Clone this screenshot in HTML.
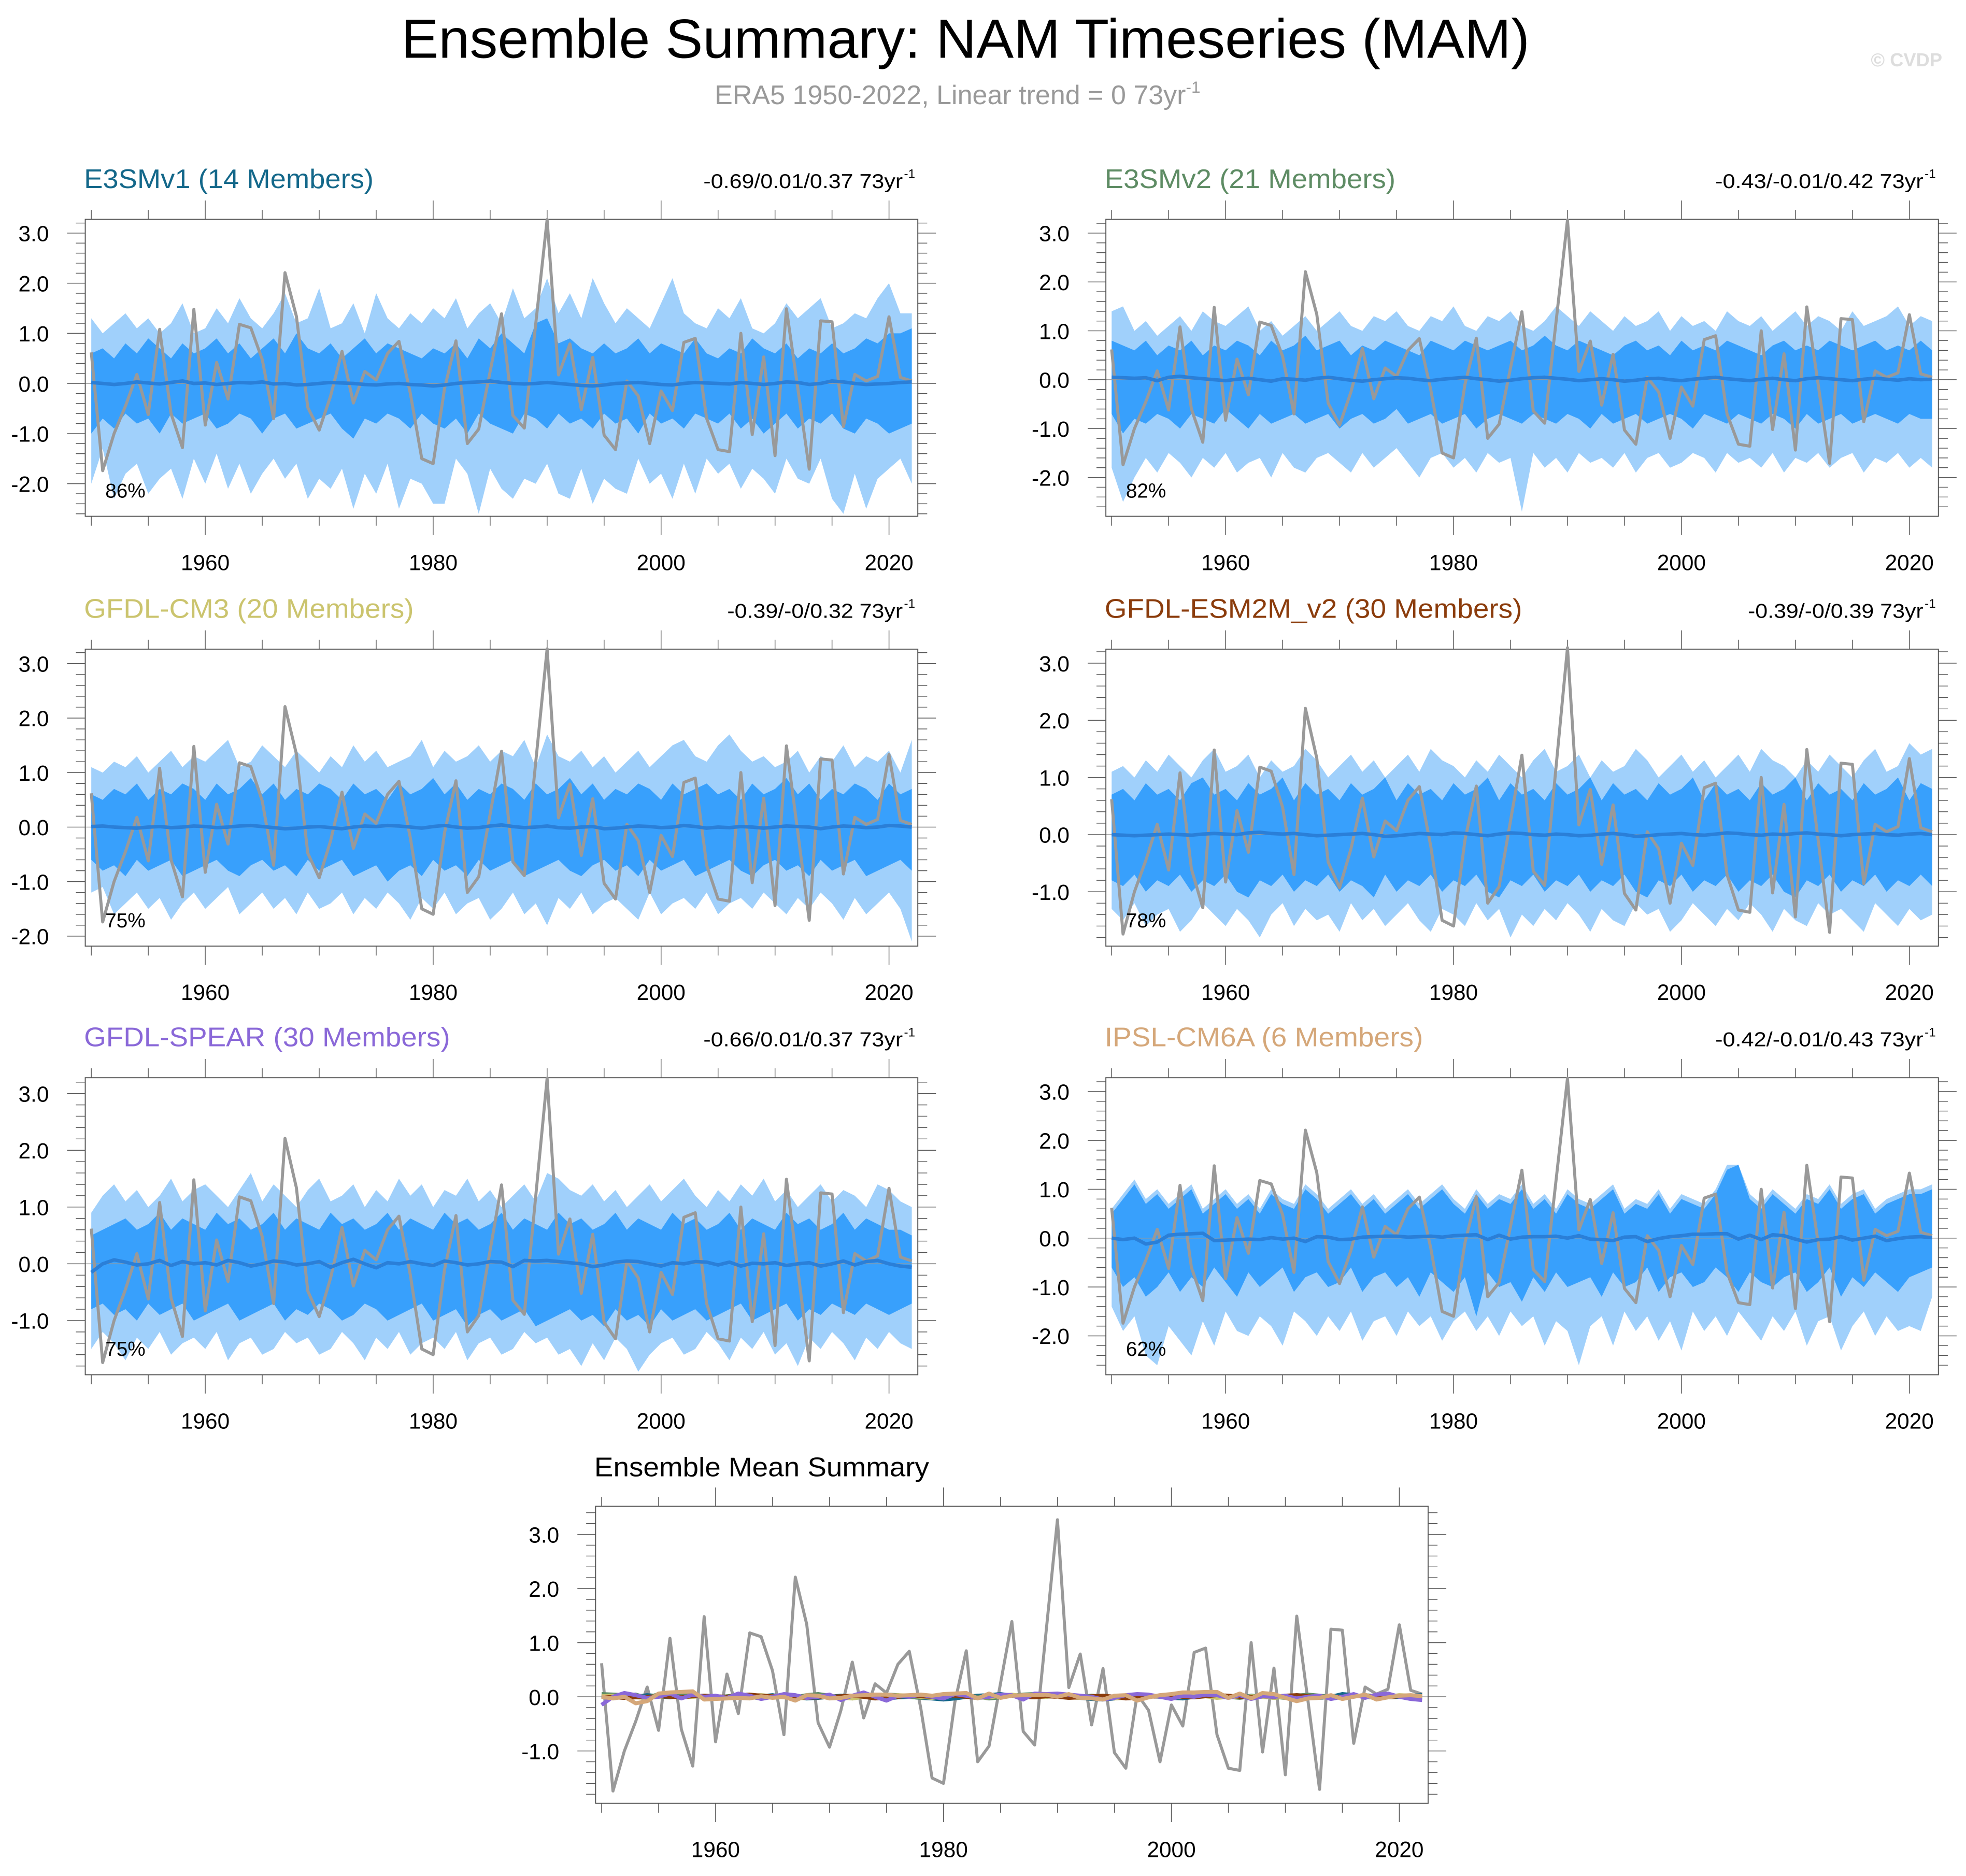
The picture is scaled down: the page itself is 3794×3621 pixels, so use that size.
<!DOCTYPE html>
<html><head><meta charset="utf-8">
<style>
html,body{margin:0;padding:0;background:#fff;}
svg{display:block;font-family:"Liberation Sans",sans-serif;}
</style></head>
<body>
<svg id="fig" xmlns="http://www.w3.org/2000/svg" width="3794" height="3621" viewBox="0 0 1568 1497" preserveAspectRatio="none">
<rect x="0" y="0" width="1568" height="1497" fill="#fff"/>
<text x="770" y="46" font-size="44" text-anchor="middle" textLength="900" lengthAdjust="spacingAndGlyphs" fill="#000">Ensemble Summary: NAM Timeseries (MAM)</text>
<text x="570" y="83" font-size="21.5" fill="#999">ERA5 1950-2022, Linear trend = 0 73yr<tspan dy="-9" font-size="13">-1</tspan></text>
<text x="1549" y="53" font-size="15" font-weight="bold" text-anchor="end" fill="#ddd">© CVDP</text>
<g id="panels"></g>
</svg>
<script>
// ---- data ----
const startYear = 1950;
const era5 = [0.62,-1.74,-1.0,-0.45,0.18,-0.62,1.08,-0.6,-1.28,1.48,-0.83,0.42,-0.31,1.18,1.11,0.48,-0.7,2.21,1.34,-0.48,-0.93,-0.25,0.64,-0.39,0.24,0.07,0.6,0.84,-0.2,-1.5,-1.6,-0.1,0.85,-1.2,-0.91,0.24,1.39,-0.64,-0.89,1.19,3.27,0.17,0.79,-0.52,0.52,-1.03,-1.32,0.05,-0.25,-1.2,-0.15,-0.54,0.82,0.9,-0.7,-1.32,-1.36,1.0,-1.02,0.53,-1.44,1.49,-0.1,-1.71,1.25,1.23,-0.86,0.18,0.05,0.14,1.33,0.12,0.05];

const e3smv1_hi = [1.3,1.0,1.2,1.4,1.1,1.3,1.0,1.2,1.6,1.0,1.1,1.5,1.2,1.7,1.3,1.1,1.4,1.8,1.2,1.3,1.9,1.1,1.2,1.6,1.0,1.8,1.3,1.1,1.4,1.2,1.5,1.3,1.7,1.1,1.4,1.6,1.2,1.9,1.3,1.5,2.1,1.4,1.8,1.3,2.1,1.6,1.2,1.5,1.3,1.1,1.6,2.1,1.4,1.2,1.1,1.5,1.3,1.7,1.1,1.0,1.2,1.6,1.3,1.5,1.7,1.1,1.2,1.4,1.3,1.7,2.0,1.4,1.4];
const e3smv1_lo = [-2.0,-1.3,-2.3,-1.8,-1.6,-2.2,-1.9,-1.7,-2.3,-1.5,-2.0,-1.4,-2.1,-1.6,-2.2,-1.8,-1.5,-1.9,-1.6,-2.3,-1.9,-2.1,-1.7,-2.5,-1.8,-2.2,-1.6,-2.5,-1.9,-2.0,-2.4,-2.4,-1.5,-1.8,-2.6,-1.7,-2.1,-2.3,-1.9,-2.0,-1.6,-2.2,-2.3,-1.7,-2.4,-1.9,-2.1,-2.2,-1.5,-2.0,-1.8,-2.3,-1.6,-2.2,-1.5,-1.8,-1.6,-2.1,-1.7,-1.9,-2.2,-1.5,-1.9,-2.0,-1.5,-2.3,-2.6,-1.8,-2.5,-1.9,-1.7,-1.5,-2.0];
const e3smv1_dhi = [0.6,0.7,0.5,0.8,0.6,0.9,0.7,0.5,0.8,0.6,0.7,0.9,0.6,0.8,0.5,0.7,0.9,0.6,1.0,0.7,0.6,0.8,0.5,0.7,0.9,0.6,0.8,0.7,0.6,0.5,0.7,0.6,0.8,0.5,0.9,0.7,1.0,0.8,0.6,1.2,1.3,0.8,0.9,0.7,0.6,0.8,0.6,0.7,0.9,0.6,0.8,0.7,0.6,0.9,0.6,0.5,0.7,0.6,0.9,0.7,0.6,0.8,0.5,0.7,0.6,0.8,0.6,0.7,0.9,0.8,1.0,1.0,1.1];
const e3smv1_dlo = [-1.0,-0.7,-0.9,-0.6,-0.8,-0.7,-1.0,-0.6,-0.8,-0.7,-0.6,-0.9,-0.8,-0.6,-0.7,-1.0,-0.7,-0.6,-0.9,-0.8,-0.7,-0.6,-0.9,-1.1,-0.7,-0.8,-0.6,-0.7,-0.9,-0.6,-0.8,-0.9,-0.7,-1.0,-0.6,-0.8,-0.9,-1.0,-0.6,-0.7,-0.9,-0.6,-0.8,-0.7,-0.9,-0.6,-0.8,-0.7,-1.0,-0.6,-0.8,-0.7,-0.9,-0.6,-0.7,-0.8,-0.6,-0.9,-0.7,-1.0,-0.8,-0.6,-0.9,-0.7,-0.8,-0.6,-0.9,-1.0,-0.7,-0.8,-1.0,-0.9,-0.8];
const e3smv1_mean = [0.02,0.0,-0.02,0.0,0.03,0.01,-0.01,0.02,0.05,0.0,0.01,-0.02,0.0,0.02,0.01,0.03,-0.01,0.0,-0.03,-0.02,0.0,0.02,0.01,0.0,-0.02,-0.03,-0.01,0.0,-0.02,-0.03,-0.05,-0.03,0.0,0.02,0.03,0.05,0.02,0.0,-0.01,0.0,0.02,0.0,-0.02,-0.04,-0.05,-0.03,0.0,0.01,0.02,0.0,-0.02,-0.03,0.0,0.02,0.01,0.0,-0.01,0.02,0.0,-0.02,0.0,0.03,0.02,-0.02,0.0,0.05,0.03,0.0,-0.02,-0.01,0.0,0.02,0.03];

const e3smv2_hi = [1.4,1.5,1.0,1.2,0.9,1.1,1.3,1.0,1.4,1.2,1.1,1.3,1.5,1.0,1.2,0.9,1.1,1.3,1.0,1.2,1.4,1.1,1.0,1.3,1.2,1.4,1.1,1.0,1.3,1.2,1.5,1.1,1.0,1.3,1.2,1.4,1.1,1.0,1.2,1.5,1.3,1.1,1.4,1.2,1.0,1.3,1.1,1.2,1.4,1.0,1.3,1.1,1.2,1.0,1.4,1.2,1.1,1.3,1.0,1.2,1.4,1.1,1.3,1.2,1.0,1.4,1.1,1.2,1.3,1.5,1.1,1.3,1.2];
const e3smv2_lo = [-1.8,-2.5,-2.0,-1.6,-1.9,-1.5,-1.7,-2.0,-1.6,-1.8,-1.5,-1.9,-1.7,-1.6,-2.0,-1.5,-1.8,-1.9,-1.6,-1.5,-1.7,-1.9,-1.5,-1.8,-1.6,-1.4,-1.7,-2.0,-1.6,-1.5,-1.8,-1.6,-1.9,-1.5,-1.7,-1.6,-2.7,-1.5,-1.8,-1.6,-1.9,-1.5,-1.7,-1.6,-1.8,-1.5,-1.9,-1.6,-1.5,-1.8,-1.7,-1.5,-1.6,-1.9,-1.5,-1.7,-1.6,-1.8,-1.5,-1.9,-1.6,-1.7,-1.5,-1.8,-1.6,-1.5,-1.9,-1.6,-1.7,-1.5,-1.8,-1.6,-1.8];
const e3smv2_dhi = [0.8,0.7,0.6,0.8,0.5,0.7,0.6,0.8,0.5,0.7,0.6,0.8,0.7,0.5,0.8,0.6,0.7,0.9,0.6,0.7,0.8,0.5,0.7,0.6,0.8,0.7,0.6,0.5,0.8,0.7,0.6,0.8,0.7,0.6,0.7,0.8,0.6,0.7,0.9,0.7,0.6,0.8,0.7,0.6,0.5,0.7,0.8,0.6,0.7,0.5,0.8,0.6,0.7,0.6,0.8,0.7,0.6,0.5,0.7,0.8,0.6,0.7,0.6,0.8,0.7,0.6,0.7,0.8,0.6,0.7,0.6,0.8,0.6];
const e3smv2_dlo = [-0.7,-1.1,-0.8,-0.9,-0.7,-0.8,-1.0,-0.7,-0.8,-0.9,-0.6,-0.8,-1.0,-0.7,-0.9,-0.8,-0.7,-0.9,-0.8,-0.7,-1.0,-0.8,-0.7,-0.9,-0.8,-0.6,-0.9,-0.8,-0.7,-0.9,-0.8,-0.7,-1.0,-0.8,-0.7,-0.8,-0.9,-0.7,-0.8,-0.9,-0.7,-0.8,-1.0,-0.7,-0.9,-0.8,-0.7,-0.9,-0.8,-0.7,-0.8,-1.0,-0.7,-0.8,-0.9,-0.7,-0.8,-0.9,-0.7,-0.8,-1.0,-0.7,-0.9,-0.8,-0.7,-0.9,-0.8,-0.7,-0.8,-0.9,-0.7,-0.8,-0.8];
const e3smv2_mean = [0.05,0.04,0.03,0.04,-0.02,0.05,0.07,0.04,0.02,0.0,-0.02,0.01,0.03,0.0,-0.03,0.02,0.01,-0.01,0.03,0.05,0.02,-0.01,-0.03,0.0,0.02,0.04,0.03,0.0,-0.02,0.01,0.03,0.05,0.02,0.0,-0.03,-0.01,0.02,0.04,0.05,0.03,0.01,-0.02,0.0,0.02,0.0,-0.03,-0.01,0.02,0.03,0.0,-0.02,0.01,0.03,0.05,0.02,0.0,-0.02,0.01,0.03,0.0,-0.02,0.02,0.04,0.02,0.0,-0.02,0.01,0.03,0.01,-0.01,0.02,0.0,0.01];

const cm3_hi = [1.1,1.0,1.2,1.1,1.3,1.0,1.2,1.4,1.1,1.3,1.2,1.4,1.6,1.1,1.2,1.5,1.3,1.1,1.4,1.2,1.0,1.3,1.1,1.5,1.2,1.4,1.1,1.2,1.3,1.6,1.1,1.4,1.2,1.3,1.5,1.2,1.4,1.3,1.6,1.1,1.7,1.3,1.2,1.4,1.1,1.3,1.0,1.2,1.4,1.1,1.3,1.5,1.6,1.3,1.2,1.5,1.7,1.4,1.2,1.3,1.1,1.2,1.4,1.0,1.3,1.2,1.5,1.1,1.3,1.2,1.4,1.0,1.6];
const cm3_lo = [-1.2,-1.1,-1.6,-1.4,-1.2,-1.5,-1.3,-1.7,-1.4,-1.2,-1.5,-1.3,-1.1,-1.6,-1.4,-1.2,-1.5,-1.3,-1.6,-1.2,-1.5,-1.4,-1.2,-1.6,-1.3,-1.5,-1.2,-1.4,-1.7,-1.3,-1.5,-1.2,-1.6,-1.4,-1.3,-1.7,-1.5,-1.2,-1.6,-1.4,-1.8,-1.3,-1.5,-1.2,-1.6,-1.4,-1.3,-1.5,-1.7,-1.2,-1.6,-1.4,-1.3,-1.5,-1.2,-1.6,-1.4,-1.3,-1.5,-1.2,-1.4,-1.6,-1.3,-1.5,-1.2,-1.4,-1.7,-1.3,-1.6,-1.4,-1.2,-1.5,-2.1];
const cm3_dhi = [0.6,0.5,0.7,0.6,0.8,0.5,0.7,0.6,0.8,0.7,0.5,0.8,0.6,0.7,0.9,0.6,0.8,0.5,0.7,0.6,0.8,0.7,0.5,0.8,0.6,0.7,0.5,0.8,0.6,0.7,0.9,0.6,0.8,0.5,0.7,0.6,0.8,0.7,0.5,0.8,0.6,0.7,0.9,0.6,0.8,0.5,0.7,0.6,0.8,0.7,0.5,0.8,0.6,0.7,0.8,0.6,0.7,0.5,0.8,0.6,0.7,0.9,0.6,0.8,0.5,0.7,0.6,0.8,0.7,0.5,0.8,0.6,0.7];
const cm3_dlo = [-0.6,-0.8,-0.7,-0.9,-0.6,-0.8,-0.7,-0.6,-0.9,-0.8,-0.7,-0.6,-0.8,-0.9,-0.7,-0.6,-0.8,-0.7,-0.9,-0.6,-0.8,-0.7,-0.6,-0.9,-0.8,-0.7,-1.0,-0.8,-0.7,-0.9,-0.6,-0.8,-0.7,-0.9,-0.6,-0.8,-0.7,-0.6,-0.9,-0.8,-0.7,-0.6,-0.8,-0.9,-0.7,-0.6,-0.8,-0.7,-0.9,-0.6,-0.8,-0.7,-0.6,-0.9,-0.8,-0.7,-0.6,-0.8,-0.9,-0.7,-0.6,-0.8,-0.7,-0.9,-0.6,-0.8,-0.7,-0.6,-0.9,-0.8,-0.7,-0.6,-0.8];
const cm3_mean = [0.01,0.02,0.0,-0.01,-0.02,0.0,0.01,-0.01,0.0,0.02,0.01,-0.01,0.0,0.02,0.03,0.01,-0.01,-0.03,-0.02,0.0,0.01,-0.01,-0.03,0.0,0.02,0.01,0.03,0.02,0.0,-0.02,0.01,0.03,0.0,-0.02,-0.01,0.02,0.04,0.01,-0.01,0.0,0.02,-0.01,-0.02,0.0,0.01,-0.03,-0.02,0.0,0.02,0.01,-0.01,0.0,0.03,0.01,-0.02,0.0,-0.01,0.01,0.0,-0.02,0.0,0.02,0.01,0.0,-0.03,0.0,0.02,0.01,-0.01,0.0,0.03,0.02,0.0];

const esm2m_hi = [1.1,1.2,1.0,1.3,1.1,1.4,1.2,1.0,1.3,1.5,1.1,1.2,1.4,1.0,1.3,1.1,1.2,1.5,1.3,1.0,1.2,1.4,1.1,1.3,1.0,1.2,1.4,1.1,1.5,1.3,1.2,1.0,1.3,1.1,1.4,1.2,1.0,1.3,1.5,1.1,1.2,1.4,1.0,1.3,1.1,1.2,1.5,1.3,1.0,1.2,1.4,1.1,1.3,1.0,1.2,1.4,1.1,1.5,1.3,1.2,1.0,1.3,1.1,1.4,1.2,1.0,1.3,1.5,1.1,1.2,1.6,1.4,1.5];
const esm2m_lo = [-1.3,-1.5,-1.2,-1.6,-1.4,-1.3,-1.7,-1.5,-1.2,-1.4,-1.6,-1.3,-1.5,-1.8,-1.4,-1.2,-1.6,-1.3,-1.5,-1.4,-1.7,-1.2,-1.5,-1.3,-1.6,-1.4,-1.2,-1.5,-1.7,-1.3,-1.4,-1.6,-1.2,-1.5,-1.3,-1.8,-1.4,-1.6,-1.3,-1.5,-1.2,-1.4,-1.7,-1.3,-1.5,-1.6,-1.2,-1.4,-1.3,-1.7,-1.5,-1.2,-1.4,-1.6,-1.3,-1.5,-1.2,-1.4,-1.7,-1.3,-1.5,-1.6,-1.2,-1.4,-1.3,-1.5,-1.7,-1.2,-1.4,-1.6,-1.3,-1.5,-1.4];
const esm2m_dhi = [0.7,0.8,0.6,0.9,0.7,0.8,0.6,0.9,1.0,0.7,0.8,0.6,0.9,0.7,0.8,1.0,0.6,0.9,0.7,0.8,0.6,0.9,0.7,0.8,1.0,0.6,0.9,0.7,0.8,0.6,0.9,0.7,0.8,1.0,0.6,0.9,0.7,0.8,0.6,0.9,0.7,0.8,1.0,0.6,0.9,0.7,0.8,0.6,0.9,0.7,0.8,1.0,0.6,0.9,0.7,0.8,0.6,0.9,0.7,0.8,1.0,0.6,0.9,0.7,0.8,0.6,0.9,0.7,0.8,1.0,0.6,0.9,0.8];
const esm2m_dlo = [-0.8,-0.9,-0.7,-1.0,-0.8,-0.9,-0.7,-1.0,-0.8,-0.9,-0.7,-1.0,-1.1,-0.8,-0.9,-0.7,-1.0,-0.8,-0.9,-0.7,-1.0,-0.8,-0.9,-1.1,-0.7,-1.0,-0.8,-0.9,-0.7,-1.0,-0.8,-0.9,-0.7,-1.0,-1.1,-0.8,-0.9,-0.7,-1.0,-0.8,-0.9,-0.7,-1.0,-0.8,-0.9,-0.7,-1.0,-1.1,-0.8,-0.9,-0.7,-1.0,-0.8,-0.9,-0.7,-1.0,-0.8,-0.9,-0.7,-1.0,-1.1,-0.8,-0.9,-0.7,-1.0,-0.8,-0.9,-0.7,-1.0,-0.8,-0.9,-0.7,-0.9];
const esm2m_mean = [0.0,-0.01,-0.02,-0.01,0.0,0.01,0.0,-0.01,0.01,0.02,0.01,0.0,0.03,0.04,0.02,0.01,0.02,0.0,-0.02,-0.01,0.0,0.01,0.02,0.0,-0.03,-0.02,0.0,0.02,0.01,0.0,0.03,0.02,0.0,-0.02,0.01,0.03,0.02,0.0,-0.01,0.01,0.0,-0.02,-0.01,0.01,0.02,0.0,-0.03,-0.02,0.0,0.01,0.02,0.0,-0.01,0.01,0.03,0.02,0.0,-0.01,0.01,0.0,0.02,0.03,0.01,0.0,-0.02,0.0,0.01,0.02,0.0,-0.01,0.01,0.02,0.0];

const spear_hi = [0.9,1.2,1.4,1.1,1.3,1.0,1.2,1.5,1.1,1.3,1.4,1.2,1.0,1.3,1.6,1.1,1.4,1.2,1.0,1.3,1.5,1.1,1.2,1.4,1.0,1.3,1.1,1.5,1.2,1.4,1.0,1.3,1.2,1.5,1.1,1.3,1.0,1.2,1.4,1.1,1.6,1.5,1.3,1.2,1.4,1.1,1.3,1.0,1.2,1.4,1.1,1.3,1.5,1.2,1.0,1.3,1.1,1.4,1.2,1.5,1.1,1.3,1.0,1.2,1.4,1.1,1.3,1.2,1.0,1.4,1.3,1.1,1.0];
const spear_lo = [-1.5,-1.2,-1.4,-1.7,-1.3,-1.5,-1.2,-1.6,-1.4,-1.3,-1.5,-1.2,-1.7,-1.4,-1.3,-1.6,-1.5,-1.2,-1.4,-1.3,-1.6,-1.5,-1.2,-1.4,-1.7,-1.3,-1.5,-1.2,-1.6,-1.4,-1.3,-1.5,-1.2,-1.7,-1.4,-1.3,-1.6,-1.5,-1.2,-1.4,-1.3,-1.6,-1.5,-1.8,-1.4,-1.7,-1.3,-1.5,-1.9,-1.6,-1.4,-1.3,-1.6,-1.5,-1.2,-1.4,-1.7,-1.3,-1.5,-1.2,-1.6,-1.4,-1.8,-1.3,-1.5,-1.2,-1.4,-1.7,-1.3,-1.5,-1.2,-1.4,-1.5];
const spear_dhi = [0.5,0.6,0.7,0.8,0.6,0.7,0.9,0.6,0.8,0.7,0.6,0.9,0.7,0.8,0.6,0.7,0.9,0.6,0.8,0.7,0.6,0.9,0.7,0.8,0.6,0.7,0.9,0.6,0.8,0.7,0.6,0.9,0.7,0.8,0.6,0.7,0.9,0.6,0.8,0.7,0.6,0.9,0.7,0.8,0.6,0.7,0.9,0.6,0.8,0.7,0.6,0.9,0.7,0.8,0.6,0.7,0.9,0.6,0.8,0.7,0.6,0.9,0.7,0.8,0.6,0.7,0.9,0.6,0.8,0.7,0.6,0.6,0.5];
const spear_dlo = [-0.8,-0.7,-0.9,-0.8,-1.0,-0.7,-0.9,-0.8,-0.7,-1.0,-0.9,-0.8,-0.7,-1.0,-0.9,-0.8,-0.7,-1.0,-0.8,-0.9,-0.7,-0.8,-1.0,-0.9,-0.7,-0.8,-1.0,-0.9,-0.8,-0.7,-1.0,-0.9,-0.8,-1.1,-0.9,-0.8,-1.0,-0.9,-0.8,-1.1,-1.0,-0.9,-0.8,-1.0,-0.9,-1.1,-0.8,-1.0,-0.9,-1.1,-0.8,-1.0,-0.9,-0.8,-1.0,-0.9,-0.8,-0.7,-1.0,-0.9,-0.8,-0.7,-1.0,-0.8,-0.9,-0.7,-0.8,-0.9,-0.7,-0.8,-0.9,-0.8,-0.7];
const spear_mean = [-0.15,0.0,0.07,0.03,-0.02,0.0,0.06,-0.03,0.04,0.0,0.02,-0.02,0.06,0.02,-0.04,0.0,0.05,0.03,-0.02,0.0,0.04,-0.06,0.02,0.08,0.0,-0.07,0.02,0.0,0.04,0.0,-0.03,0.05,0.02,-0.02,0.0,0.04,0.03,-0.05,0.06,0.05,0.06,0.04,0.02,0.0,-0.05,-0.02,0.03,0.05,0.04,0.0,-0.04,0.02,0.0,0.04,0.03,-0.02,0.03,-0.04,0.01,0.0,0.02,-0.03,0.0,0.02,-0.04,0.0,0.05,-0.02,0.04,0.06,0.0,-0.04,-0.06];

const ipsl_hi = [0.6,0.9,1.2,0.8,1.0,0.7,0.9,1.1,0.6,0.8,1.0,0.7,0.9,0.6,1.0,0.8,0.7,1.1,0.9,0.6,0.8,1.0,0.7,0.9,0.6,0.8,1.0,0.7,0.9,1.1,0.8,0.6,1.0,0.7,0.9,0.8,1.1,0.7,0.9,0.6,1.0,0.8,0.7,0.9,1.1,0.6,0.8,0.7,1.0,0.6,0.9,0.8,0.7,1.0,1.5,1.5,0.9,0.7,1.0,0.8,0.6,0.9,0.8,1.1,0.7,0.9,1.0,0.6,0.8,0.9,1.0,1.0,1.1];
const ipsl_lo = [-1.4,-1.9,-1.6,-2.4,-2.6,-1.8,-2.1,-2.4,-1.7,-2.2,-1.5,-1.9,-2.0,-1.6,-1.8,-2.2,-1.5,-1.7,-2.0,-1.6,-1.9,-1.5,-2.1,-1.7,-1.6,-2.0,-1.5,-1.8,-1.6,-2.1,-1.7,-1.5,-1.9,-1.6,-2.0,-1.5,-1.8,-1.6,-2.2,-1.7,-1.9,-2.6,-1.8,-1.6,-2.2,-1.5,-1.9,-1.6,-2.1,-1.7,-2.3,-1.5,-1.9,-1.6,-2.0,-1.5,-1.8,-2.1,-1.6,-1.9,-1.5,-2.2,-1.7,-1.6,-2.3,-1.8,-1.5,-2.0,-1.6,-1.9,-1.8,-1.9,-1.2];
const ipsl_dhi = [0.5,0.8,1.1,0.7,0.9,0.6,0.8,1.0,0.5,0.7,0.9,0.6,0.8,0.5,0.9,0.7,0.6,1.0,0.8,0.5,0.7,0.9,0.6,0.8,0.5,0.7,0.9,0.6,0.8,1.0,0.7,0.5,0.9,0.6,0.8,0.7,1.0,0.6,0.8,0.5,0.9,0.7,0.6,0.8,1.0,0.5,0.7,0.6,0.9,0.5,0.8,0.7,0.6,0.9,1.4,1.5,0.8,0.6,0.9,0.7,0.5,0.8,0.7,1.0,0.6,0.8,0.9,0.5,0.7,0.8,0.9,0.9,1.0];
const ipsl_dlo = [-0.6,-1.0,-0.8,-1.2,-1.0,-0.7,-1.1,-0.8,-1.0,-0.6,-0.9,-1.2,-0.7,-1.0,-0.8,-0.6,-1.1,-0.8,-0.7,-1.0,-0.9,-0.6,-1.1,-0.8,-0.7,-1.0,-0.8,-1.2,-0.7,-0.9,-1.1,-0.8,-1.6,-0.7,-1.0,-0.9,-1.3,-0.8,-1.1,-0.7,-1.0,-0.9,-0.8,-1.2,-0.7,-1.0,-0.9,-0.6,-1.1,-0.8,-0.7,-1.0,-0.9,-0.6,-0.8,-1.1,-0.7,-0.9,-1.0,-0.8,-0.7,-1.1,-0.9,-0.6,-1.2,-0.8,-1.0,-0.7,-0.9,-1.1,-0.8,-0.7,-0.6];
const ipsl_mean = [0.0,-0.03,0.0,-0.12,-0.08,0.06,0.08,0.09,0.1,-0.05,-0.04,-0.03,-0.02,-0.03,0.01,-0.02,0.0,-0.07,0.03,0.02,-0.03,-0.02,0.02,0.03,0.04,0.04,0.02,0.03,0.04,0.02,0.05,0.06,0.07,-0.03,0.06,-0.02,0.02,0.03,0.03,0.04,0.0,0.05,-0.02,-0.03,-0.05,0.02,0.03,-0.07,-0.01,0.03,0.05,0.08,0.08,0.09,0.09,-0.02,0.06,-0.03,0.07,0.05,-0.02,-0.08,-0.03,-0.02,0.03,-0.04,0.0,0.04,-0.05,-0.01,0.02,0.03,0.01];

const modelNames = ["E3SMv1 (14 Members)","E3SMv2 (21 Members)","GFDL-CM3 (20 Members)","GFDL-ESM2M_v2 (30 Members)","GFDL-SPEAR (30 Members)","IPSL-CM6A (6 Members)"];
const trendLabels = ["-0.69/0.01/0.37 73yr","-0.43/-0.01/0.42 73yr","-0.39/-0/0.32 73yr","-0.39/-0/0.39 73yr","-0.66/0.01/0.37 73yr","-0.42/-0.01/0.43 73yr"];
const pctLabels = ["86%","82%","75%","78%","75%","62%"];
const xTickYears = [1960,1980,2000,2020];

// ---- layout / style ----
const modelColors = ["#14688a","#5e8c64","#cbc46e","#8b3c0c","#8a68d8","#d5a779"];
const titleWidths = [231,232,263,333,292,254];
const trendWidths = [159,166,140,140,159,166];
const LIGHT = "#a0d0fb", DARK = "#38a0fc", MEANC = "#2a7fd8", OBS = "#999999";
const panels = [
 {box:[68,175,732,412], zero:306, ppu:40.0, x1950:72.8, yt:[-2,3], slug:"e3smv1", hi:e3smv1_hi, lo:e3smv1_lo, dhi:e3smv1_dhi, dlo:e3smv1_dlo, mean:e3smv1_mean},
 {box:[882,175,1546,412], zero:303, ppu:39.0, x1950:886.6, yt:[-2,3], slug:"e3smv2", hi:e3smv2_hi, lo:e3smv2_lo, dhi:e3smv2_dhi, dlo:e3smv2_dlo, mean:e3smv2_mean},
 {box:[68,518,732,755], zero:660, ppu:43.5, x1950:72.8, yt:[-2,3], slug:"gfdl-cm3", hi:cm3_hi, lo:cm3_lo, dhi:cm3_dhi, dlo:cm3_dlo, mean:cm3_mean},
 {box:[882,518,1546,755], zero:666, ppu:45.6, x1950:886.6, yt:[-1,3], slug:"gfdl-esm2m", hi:esm2m_hi, lo:esm2m_lo, dhi:esm2m_dhi, dlo:esm2m_dlo, mean:esm2m_mean},
 {box:[68,860,732,1097], zero:1008.5, ppu:45.3, x1950:72.8, yt:[-1,3], slug:"gfdl-spear", hi:spear_hi, lo:spear_lo, dhi:spear_dhi, dlo:spear_dlo, mean:spear_mean},
 {box:[882,860,1546,1097], zero:988, ppu:39.0, x1950:886.6, yt:[-2,3], slug:"ipsl-cm6a", hi:ipsl_hi, lo:ipsl_lo, dhi:ipsl_dhi, dlo:ipsl_dlo, mean:ipsl_mean}
];
const YR = 9.089;
const NS = "http://www.w3.org/2000/svg";
const root = document.getElementById("panels");
function mk(tag, attrs, parent){
  const e = document.createElementNS(NS, tag);
  for (const k in attrs) e.setAttribute(k, attrs[k]);
  (parent||root).appendChild(e);
  return e;
}
function val(arr,i){ return arr[Math.min(i, arr.length-1)]; }

function drawAxes(g, box, zero, ppu, x1950, yt){
  const [x0,y0,x1,y1] = box;
  const xs = yr => x1950 + (yr-startYear)*YR;
  const ys = v => zero - ppu*v;
  const z = mk("line",{x1:x0,x2:x1,y1:ys(0),y2:ys(0),stroke:"#999","stroke-width":0.6},g);
  
  
  const fr = mk("rect",{x:x0,y:y0,width:x1-x0,height:y1-y0,fill:"none",stroke:"#555","stroke-width":0.8},g);
  
  
  const vTop = (zero-y0)/ppu, vBot = (zero-y1)/ppu;
  for (let k=Math.ceil(vBot*5); k<=Math.floor(vTop*5); k++){
    const v = k/5, yy = ys(v), major = (k%5===0);
    const L = major?14.5:7.5;
    mk("line",{x1:x0-L,x2:x0,y1:yy,y2:yy,stroke:"#555","stroke-width":0.6},g);
    mk("line",{x1:x1,x2:x1+L,y1:yy,y2:yy,stroke:"#555","stroke-width":0.6},g);
  }
  for (let v=yt[0]; v<=yt[1]; v++){
    const t = mk("text",{x:x0-29,y:ys(v)+6.5,"font-size":17.5,"text-anchor":"end",fill:"#000"},g);
    t.textContent = v.toFixed(1);
    
    
  }
  for (let yr=1950; yr<=2022; yr+=5){
    const xx = xs(yr), major = (yr%20===0);
    const L = major?15:7.5;
    mk("line",{x1:xx,x2:xx,y1:y0-L,y2:y0,stroke:"#555","stroke-width":0.6},g);
    mk("line",{x1:xx,x2:xx,y1:y1,y2:y1+L,stroke:"#555","stroke-width":0.6},g);
  }
  xTickYears.forEach(yr=>{
    const t = mk("text",{x:xs(yr),y:y1+43,"font-size":17.5,"text-anchor":"middle",fill:"#000"},g);
    t.textContent = yr;
    
    
  });
  return {xs, ys};
}

function bandPath(top, bot, xs, ys){
  const n = era5.length;
  let d = "";
  for (let i=0;i<n;i++) d += (i?"L":"M")+xs(startYear+i).toFixed(2)+","+ys(val(top,i)).toFixed(2);
  for (let i=n-1;i>=0;i--) d += "L"+xs(startYear+i).toFixed(2)+","+ys(val(bot,i)).toFixed(2);
  return d+"Z";
}
function linePath(arr, xs, ys){
  let d="";
  for (let i=0;i<arr.length;i++) d += (i?"L":"M")+xs(startYear+i).toFixed(2)+","+ys(arr[i]).toFixed(2);
  return d;
}

panels.forEach((p,pi)=>{
  const g = mk("g",{});
  
  
  const [x0,y0,x1,y1] = p.box;
  const cid = "clip"+pi;
  const cp = mk("clipPath",{id:cid},g);
  mk("rect",{x:x0,y:y0,width:x1-x0,height:y1-y0},cp);
  const xs = yr => p.x1950 + (yr-startYear)*YR;
  const ys = v => p.zero - p.ppu*v;
  const cg = mk("g",{"clip-path":"url(#"+cid+")"},g);
  const lb = mk("path",{d:bandPath(p.hi,p.lo,xs,ys),fill:LIGHT,stroke:"none"},cg);
  
  
  const db = mk("path",{d:bandPath(p.dhi,p.dlo,xs,ys),fill:DARK,stroke:"none"},cg);
  
  
  drawAxes(g, p.box, p.zero, p.ppu, p.x1950, p.yt);
  const ol = mk("path",{d:linePath(era5,xs,ys),fill:"none",stroke:OBS,"stroke-width":2.4,"stroke-linejoin":"round"},g);
  
  
  const ml = mk("path",{d:linePath(p.mean,xs,ys),fill:"none",stroke:MEANC,"stroke-width":2.8,"stroke-linejoin":"round"},g);
  
  
  const pt = mk("text",{x:x0+16,y:y1-15,"font-size":16,fill:"#000"},g);
  pt.textContent = pctLabels[pi];
  
  
  const tt = mk("text",{x:x0-1,y:y0-25,"font-size":21.5,fill:modelColors[pi],textLength:titleWidths[pi],lengthAdjust:"spacingAndGlyphs"},g);
  tt.textContent = modelNames[pi];
  
  
  const tr = mk("text",{x:x1-12-trendWidths[pi],y:y0-25,"font-size":16,fill:"#000",textLength:trendWidths[pi],lengthAdjust:"spacingAndGlyphs"},g);
  tr.textContent = trendLabels[pi];
  
  
  const sup = mk("text",{x:x1-11,y:y0-33,"font-size":10,fill:"#000"},g);
  sup.textContent = "-1";
  
  
});

// ---- bottom ensemble mean summary ----
(function(){
  const g = mk("g",{});
  
  
  const box=[475,1202,1139,1439], zero=1354, ppu=43.2, x1950=479.8;
  const ax = drawAxes(g, box, zero, ppu, x1950, [-1,3]);
  const means = [e3smv1_mean,e3smv2_mean,cm3_mean,esm2m_mean,spear_mean,ipsl_mean];
  const names = ["e3smv1","e3smv2","gfdl-cm3","gfdl-esm2m","gfdl-spear","ipsl-cm6a"];
  const ol = mk("path",{d:linePath(era5,ax.xs,ax.ys),fill:"none",stroke:OBS,"stroke-width":2.4,"stroke-linejoin":"round"},g);
  
  
  means.forEach((m,i)=>{
    const l = mk("path",{d:linePath(m,ax.xs,ax.ys),fill:"none",stroke:modelColors[i],"stroke-width":3.2,"stroke-linejoin":"round"},g);
    
    
  });
  const t = mk("text",{x:474,y:1178,"font-size":21.5,fill:"#000",textLength:267,lengthAdjust:"spacingAndGlyphs"},g);
  t.textContent = "Ensemble Mean Summary";
  
  
})();
</script>
</body></html>
